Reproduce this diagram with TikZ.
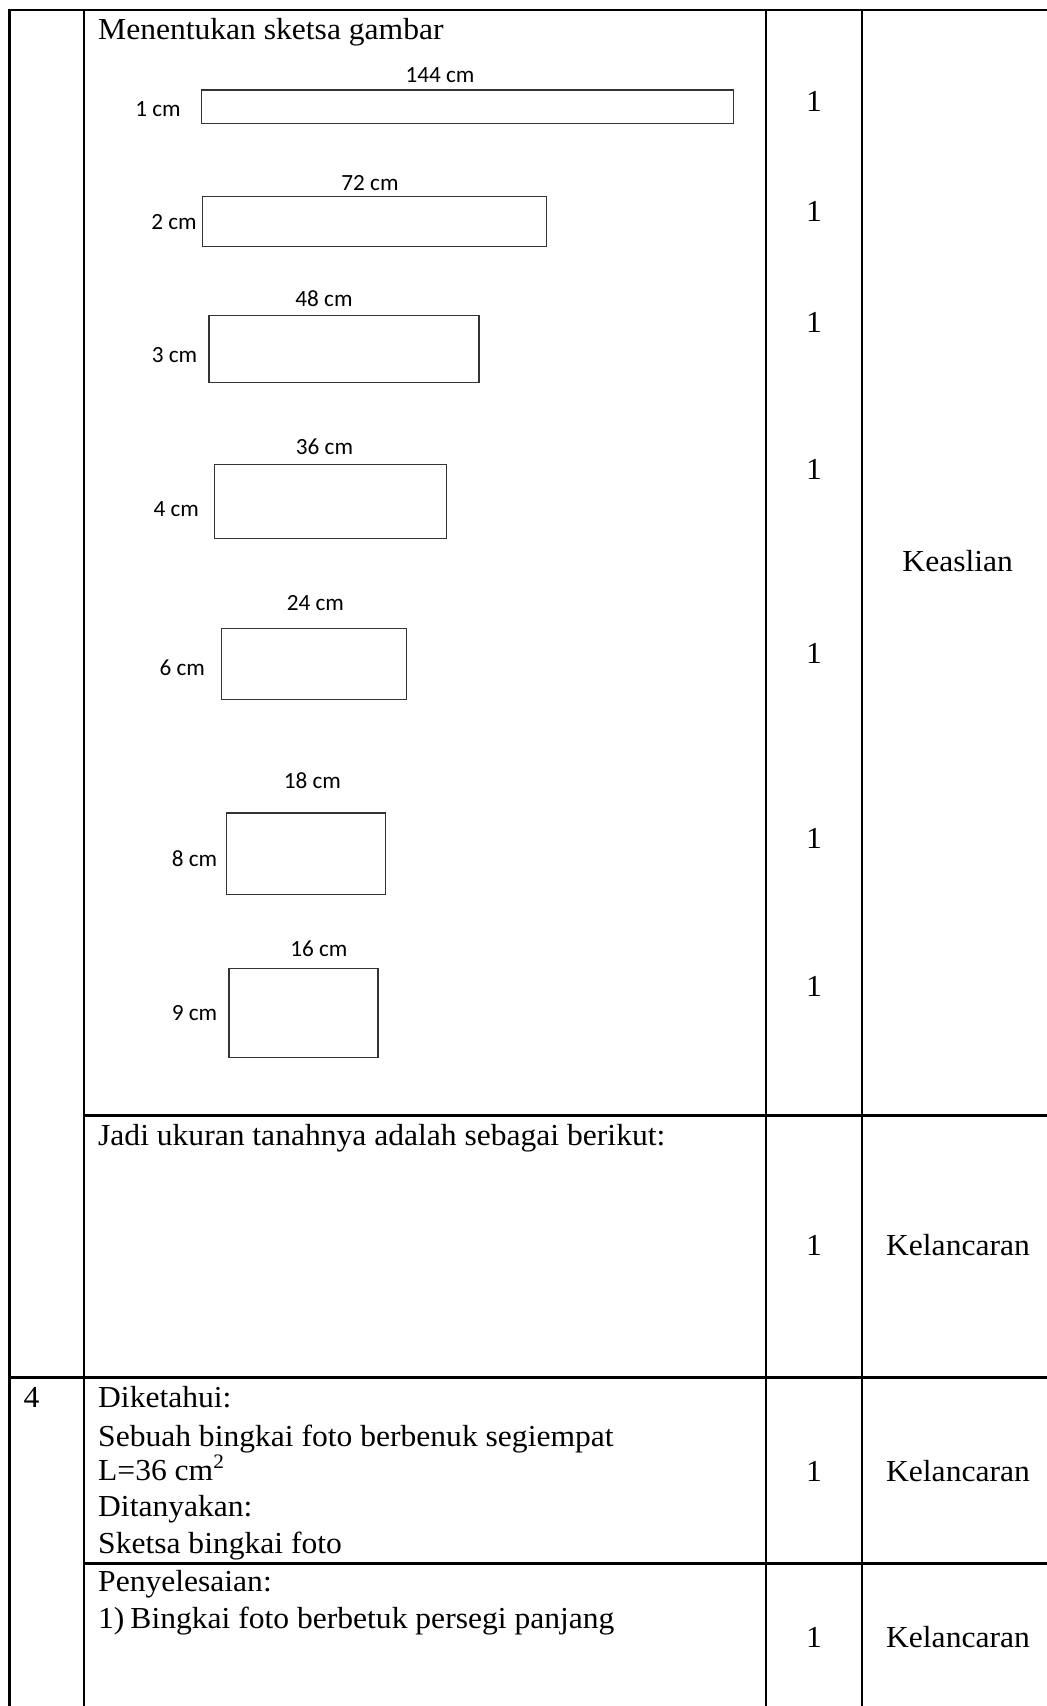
\documentclass[tikz,border=0pt]{standalone}
\usepackage{fontspec}
\setmainfont{Liberation Serif}[FakeStretch=1.035]
\newfontfamily\labelfont{Carlito}
\usetikzlibrary{positioning}

\begin{document}
\begin{tikzpicture}[x=1pt, y=-1pt,
          tabline/.style={line width=2.5pt, black, line cap=rect},
          sketch/.style={draw=black!80, line width=1.3pt, inner sep=0pt, anchor=north west},
          dimlabel/.style={anchor=base, inner sep=0pt, font=\labelfont\fontsize{23.2}{28}\selectfont},
          cell/.style={anchor=base west, inner sep=0pt, font=\fontsize{30.5}{36.5}\selectfont},
          score/.style={anchor=base, inner sep=0pt, font=\fontsize{30.5}{36.5}\selectfont}
        ]
          \useasboundingbox (0,0) rectangle (1047,1706);

          % table rules
          \draw[tabline] (9.5,1706) -- (9.5,10) -- (1047,10);
          \draw[tabline] (84,10) -- (84,1706);
          \draw[tabline] (766,10) -- (766,1706);
          \draw[tabline] (862,10) -- (862,1706);
          \draw[tabline] (84,1115.7) -- (1047,1115.7);
          \draw[tabline] (9.5,1377.4) -- (1047,1377.4);
          \draw[tabline] (84,1563.3) -- (1047,1563.3);

          % sketches
          \node[cell] (title) at (98,39.5) {Menentukan sketsa gambar};

          \node[sketch, minimum width=531.8pt, minimum height=33.4pt] (r1) at (200.7,89.3) {};
          \node[dimlabel] (w1) at (440,82.7) {144 cm};
          \node[dimlabel] (h1) at (158,116.7) {1 cm};

          \node[sketch, minimum width=344.3pt, minimum height=50pt] (r2) at (201.7,196) {};
          \node[dimlabel] (w2) at (370,190) {72 cm};
          \node[dimlabel] (h2) at (174,229.3) {2 cm};

          \node[sketch, minimum width=270pt, minimum height=66.7pt] (r3) at (208.3,315) {};
          \node[dimlabel] (w3) at (324,306) {48 cm};
          \node[dimlabel] (h3) at (174.5,362.7) {3 cm};

          \node[sketch, minimum width=232pt, minimum height=74pt] (r4) at (214,464) {};
          \node[dimlabel] (w4) at (324.5,454.3) {36 cm};
          \node[dimlabel] (h4) at (176.3,516.7) {4 cm};

          \node[sketch, minimum width=185.3pt, minimum height=70.7pt] (r5) at (220.7,628) {};
          \node[dimlabel] (w5) at (315.3,610) {24 cm};
          \node[dimlabel] (h5) at (182.2,675.3) {6 cm};

          \node[sketch, minimum width=159pt, minimum height=81.7pt] (r6) at (226,812.3) {};
          \node[dimlabel] (w6) at (312.3,788.3) {18 cm};
          \node[dimlabel] (h6) at (194.5,866.7) {8 cm};

          \node[sketch, minimum width=149pt, minimum height=89pt] (r7) at (228.3,967.7) {};
          \node[dimlabel] (w7) at (318.8,956) {16 cm};
          \node[dimlabel] (h7) at (194.5,1020) {9 cm};

          % scores and criteria
          \foreach \y [count=\i] in {111.7,221.7,332.7,479.3,663.3,848.3,996,1255.7,1481,1647.3}
            \node[score] (s\i) at (814,\y) {1};
          \node[score] (keaslian) at (957.7,571.7) {Keaslian};
          \node[score] (lancar1) at (958,1255.7) {Kelancaran};
          \node[score] (lancar2) at (958,1481) {Kelancaran};
          \node[score] (lancar3) at (958,1647.3) {Kelancaran};

          % lower rows
          \node[cell] (jadi) at (98,1145) {Jadi ukuran tanahnya adalah sebagai berikut:};
          \node[score] (no4) at (31.5,1407.7) {4};
          \node[cell] (tahu) at (98,1407.7) {Diketahui:};
          \node[cell] (bingkai) at (98,1446) {Sebuah bingkai foto berbenuk segiempat};
          \node[cell] (luas) at (98,1480.7) {L=36 cm\raisebox{12.4pt}{\fontsize{20.5}{20.5}\selectfont 2}};
          \node[cell] (tanya) at (98,1516.7) {Ditanyakan:};
          \node[cell] (sketsa) at (98,1553.3) {Sketsa bingkai foto};
          \node[cell] (selesai) at (98,1591.7) {Penyelesaian:};
          \node[cell] (langkah) at (98,1628.3) {1)\hspace{6pt}Bingkai foto berbetuk persegi panjang};
\end{tikzpicture}
\end{document}
